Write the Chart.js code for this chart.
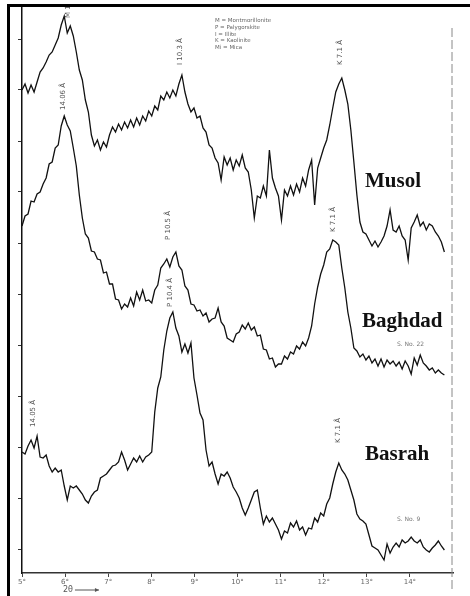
<!doctype html>
<html>
<head>
<title>XRD patterns - Musol, Baghdad, Basrah</title>
<script src="https://cdn.jsdelivr.net/npm/chart.js@4/dist/chart.umd.min.js"></script>
<style>
	body { margin: 0; background: #fff; }
	#wrap { position: relative; width: 470px; height: 596px; overflow: hidden; background: #fff; }
	#frame { position: absolute; left: 7px; top: 4px; width: 480px; height: 600px; border-left: 3px solid #000; border-top: 3px solid #000; }
	canvas { position: absolute; left: 0; top: 0; }
	.name { position: absolute; font: bold 21px "Liberation Serif", serif; line-height: 1; color: #111; }
	.sno { position: absolute; font: 6px "DejaVu Sans", sans-serif; color: #777; }
	.legend { position: absolute; left: 215px; top: 17px; font: 5.5px "DejaVu Sans", sans-serif; color: #666; line-height: 6.8px; white-space: pre; }
</style>
</head>
<body>
<div id="wrap">
	<canvas id="canvas" width="470" height="596"></canvas>
	<div id="frame"></div>
	<div class="legend">M = Montmorillonite
P = Palygorskite
I = Illite
K = Kaolinite
Mi = Mica</div>
	<div class="name" style="left:365px; top:170px;">Musol</div>
	<div class="name" style="left:362px; top:310px;">Baghdad</div>
	<div class="name" style="left:365px; top:443px;">Basrah</div>
	<div class="sno" style="left:397px; top:340px;">S. No. 22</div>
	<div class="sno" style="left:397px; top:515px;">S. No. 9</div>
</div>
<script>
	// 2theta grid (degrees)
	var thetaStart = 5.0;
	var thetaStep = 0.07;

	var xTickLabels = ['5°', '6°', '7°', '8°', '9°', '10°', '11°', '12°', '13°', '14°'];
	var xTicks = [5, 6, 7, 8, 9, 10, 11, 12, 13, 14];
	var yTicks = [24, 75, 126, 177, 228, 279, 330, 381, 432, 483, 534];

	var musol = [
		483, 489, 480, 488, 481, 491, 501, 505, 511, 518, 521, 528, 535, 548, 557, 540, 547, 537, 521, 503,
		493, 473, 461, 438, 427, 433, 423, 431, 426, 438, 446, 441, 449, 443, 451, 445, 453, 446, 455, 448,
		457, 452, 462, 457, 467, 463, 477, 473, 481, 475, 483, 477, 489, 498, 481, 469, 461, 465, 455, 457,
		445, 441, 428, 425, 415, 410, 393, 416, 408, 415, 403, 413, 407, 418, 405, 401, 383, 355, 377, 375,
		387, 377, 423, 395, 385, 377, 353, 383, 377, 387, 378, 389, 381, 395, 387, 403, 413, 368, 405, 415,
		425, 433, 448, 465, 481, 489, 495, 483, 469, 443, 411, 378, 351, 341, 339, 333, 327, 332, 326, 331,
		337, 347, 363, 343, 341, 347, 337, 333, 313, 345, 351, 358, 347, 351, 343, 349, 347, 341, 337, 331,
		321
	];
	var baghdad = [
		347, 357, 359, 372, 371, 379, 381, 389, 395, 409, 411, 425, 428, 447, 457, 448, 442, 425, 407, 378,
		355, 339, 335, 322, 321, 314, 313, 300, 301, 289, 289, 274, 273, 264, 269, 266, 275, 267, 281, 273,
		283, 272, 273, 270, 283, 288, 305, 309, 314, 306, 316, 321, 307, 303, 287, 283, 269, 268, 262, 263,
		257, 260, 251, 254, 255, 265, 251, 247, 235, 233, 231, 239, 241, 248, 244, 250, 243, 246, 237, 238,
		224, 223, 214, 215, 206, 209, 209, 217, 214, 221, 219, 227, 224, 231, 227, 235, 247, 269, 286, 299,
		308, 321, 324, 333, 331, 328, 305, 285, 261, 245, 225, 222, 216, 219, 213, 217, 210, 214, 207, 214,
		206, 213, 209, 212, 207, 211, 204, 212, 207, 199, 215, 208, 218, 210, 207, 203, 205, 200, 203, 200,
		198
	];
	var basrah = [
		121, 119, 127, 133, 125, 137, 116, 115, 118, 107, 101, 105, 101, 103, 87, 73, 87, 85, 87, 83,
		79, 73, 70, 77, 81, 83, 95, 97, 99, 103, 107, 108, 111, 121, 113, 103, 109, 115, 111, 117,
		111, 116, 118, 121, 161, 185, 196, 223, 242, 255, 261, 245, 237, 221, 229, 220, 230, 195, 178, 160,
		153, 123, 107, 111, 99, 89, 99, 97, 101, 95, 86, 81, 75, 65, 58, 65, 73, 81, 83, 65,
		49, 57, 51, 55, 49, 43, 34, 42, 40, 50, 46, 52, 43, 46, 38, 45, 44, 55, 51, 60,
		57, 69, 75, 89, 101, 110, 103, 99, 93, 83, 73, 59, 54, 52, 49, 38, 27, 25, 23, 18,
		13, 29, 20, 26, 30, 26, 33, 30, 32, 36, 32, 30, 33, 26, 23, 21, 25, 28, 32, 27,
		23
	];

	// rotated d-spacing labels: position in 2theta, intensity where the text starts
	var peakLabels = [
		{ at: 6.07, base: 555, text: 'M 14.06 Å' },
		{ at: 8.67, base: 508, text: 'I 10.3 Å' },
		{ at: 12.38, base: 508, text: 'K 7.1 Å' },
		{ at: 5.95, base: 463, text: '14.06 Å' },
		{ at: 8.39, base: 333, text: 'P 10.5 Å' },
		{ at: 12.22, base: 341, text: 'K 7.1 Å' },
		{ at: 5.26, base: 146, text: '14.05 Å' },
		{ at: 8.43, base: 266, text: 'P 10.4 Å' },
		{ at: 12.33, base: 130, text: 'K 7.1 Å' }
	];

	function toPoints(values) {
		return values.map(function(v, i) {
			return { x: thetaStart + i * thetaStep, y: v };
		});
	}

	function lineSet(label, values) {
		return {
			label: label,
			data: toPoints(values),
			borderColor: '#111',
			borderWidth: 1.3,
			pointRadius: 0,
			fill: false,
			tension: 0
		};
	}

	var overlay = {
		id: 'overlay',
		afterDraw: function(chart) {
			var ctx = chart.ctx;
			var x = chart.scales.x;
			var y = chart.scales.y;
			ctx.save();
			ctx.beginPath();
			ctx.rect(0, 7, chart.width, chart.height);
			ctx.clip();

			ctx.fillStyle = '#555';
			ctx.font = '7px "DejaVu Sans", sans-serif';
			ctx.textBaseline = 'middle';
			ctx.textAlign = 'left';
			peakLabels.forEach(function(p) {
				ctx.save();
				ctx.translate(x.getPixelForValue(p.at), y.getPixelForValue(p.base));
				ctx.rotate(-Math.PI / 2);
				ctx.fillText(p.text, 0, 0);
				ctx.restore();
			});

			// dashed line on the right edge
			var xr = x.getPixelForValue(15) - 1;
			ctx.strokeStyle = '#888';
			ctx.lineWidth = 1;
			ctx.setLineDash([9, 3]);
			ctx.beginPath();
			ctx.moveTo(xr, 28);
			ctx.lineTo(xr, 592);
			ctx.stroke();
			ctx.setLineDash([]);

			// 2theta arrow under the axis
			var x0 = x.getPixelForValue(5.95);
			ctx.fillStyle = '#555';
			ctx.font = '8px "DejaVu Sans", sans-serif';
			ctx.fillText('2θ', x0, 590);
			ctx.strokeStyle = '#555';
			ctx.beginPath();
			ctx.moveTo(x0 + 12, 590);
			ctx.lineTo(x0 + 36, 590);
			ctx.stroke();
			ctx.beginPath();
			ctx.moveTo(x0 + 36, 590);
			ctx.lineTo(x0 + 32, 588);
			ctx.lineTo(x0 + 32, 592);
			ctx.closePath();
			ctx.fill();
			ctx.restore();
		}
	};

	var config = {
		type: 'line',
		data: {
			datasets: [
				lineSet('Musol', musol),
				lineSet('Baghdad', baghdad),
				lineSet('Basrah', basrah)
			]
		},
		options: {
			responsive: false,
			animation: false,
			devicePixelRatio: 1,
			layout: { padding: { left: 0, top: 5, right: 17, bottom: 0 } },
			plugins: {
				legend: { display: false },
				tooltip: { enabled: false }
			},
			scales: {
				x: {
					type: 'linear',
					min: 5,
					max: 15,
					afterBuildTicks: function(scale) {
						scale.ticks = xTicks.map(function(v) { return { value: v }; });
					},
					afterFit: function(scale) { scale.height = 23; },
					ticks: {
						padding: 1,
						color: '#666',
						font: { size: 7, family: 'DejaVu Sans' },
						maxRotation: 0,
						autoSkip: false,
						callback: function(value, index) { return xTickLabels[index]; }
					},
					grid: { drawOnChartArea: false, tickLength: 4, color: '#444' },
					border: { color: '#333', width: 1.5 }
				},
				y: {
					min: 0,
					max: 568,
					afterBuildTicks: function(scale) {
						scale.ticks = yTicks.map(function(v) { return { value: v }; });
					},
					afterFit: function(scale) { scale.width = 22; },
					ticks: { display: false },
					grid: { drawOnChartArea: false, tickLength: 4, color: '#333' },
					border: { color: '#111', width: 1.5 }
				}
			}
		},
		plugins: [overlay]
	};

	window.onload = function() {
		var ctx = document.getElementById('canvas').getContext('2d');
		window.myLine = new Chart(ctx, config);
	};
</script>
</body>
</html>
